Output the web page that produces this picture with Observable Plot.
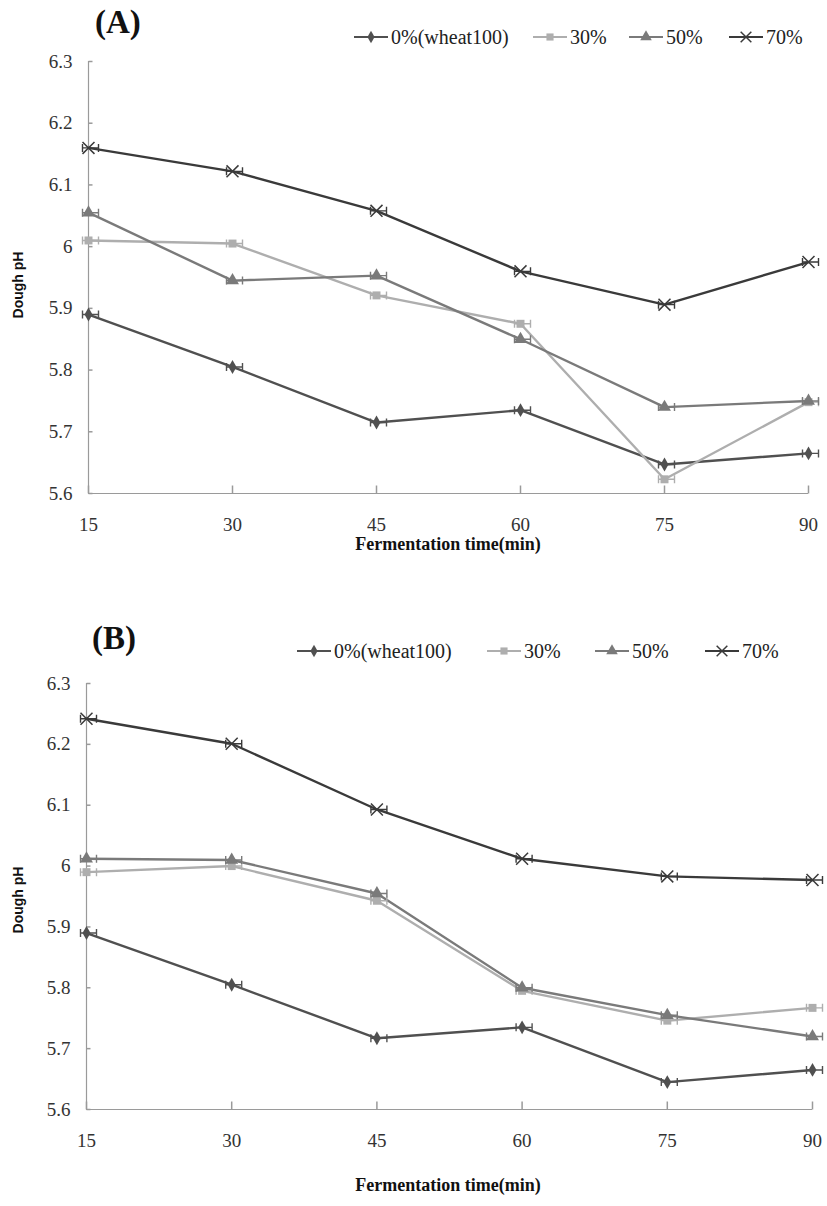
<!DOCTYPE html>
<html><head><meta charset="utf-8">
<script src="https://cdn.jsdelivr.net/npm/d3@7"></script>
<script src="https://cdn.jsdelivr.net/npm/@observablehq/plot@0.6"></script>
<style>
body{margin:0;background:#fff;}
#wrap{position:relative;width:827px;height:1206px;overflow:hidden;font-family:"Liberation Serif","Times New Roman",serif;background:#fff;}
.panel{position:absolute;left:0;width:827px;}
.title{position:absolute;font-family:"Liberation Serif",serif;font-weight:bold;font-size:33px;line-height:36px;color:#111;}
.lg{position:absolute;display:flex;align-items:center;font-family:"Liberation Serif",serif;font-size:20px;line-height:22px;color:#222;white-space:nowrap;}
.lg svg{margin-right:2px;}
.ylab{position:absolute;font-family:"Liberation Sans",sans-serif;font-weight:bold;font-size:14px;color:#111;transform:translate(-50%,-50%) rotate(-90deg);white-space:nowrap;}
.xlab{position:absolute;font-family:"Liberation Serif",serif;font-weight:bold;font-size:18px;color:#111;transform:translate(-50%,-50%);white-space:nowrap;}
</style></head>
<body><div id="wrap"></div>
<script>
// ---- data ----
const times = [15, 30, 45, 60, 75, 90];
const seriesNames = ["0%(wheat100)", "30%", "50%", "70%"];
const yTicks = [5.6, 5.7, 5.8, 5.9, 6.0, 6.1, 6.2, 6.3];
const xTicks = [15, 30, 45, 60, 75, 90];
// Panel A
const a0  = [5.89, 5.805, 5.715, 5.735, 5.647, 5.665];
const a30 = [6.01, 6.005, 5.921, 5.875, 5.623, 5.748];
const a50 = [6.055, 5.945, 5.953, 5.85, 5.74, 5.75];
const a70 = [6.16, 6.122, 6.058, 5.96, 5.906, 5.975];
// Panel B
const b0  = [5.89, 5.805, 5.717, 5.735, 5.645, 5.665];
const b30 = [5.99, 6.0, 5.943, 5.795, 5.746, 5.767];
const b50 = [6.012, 6.01, 5.955, 5.80, 5.755, 5.72];
const b70 = [6.242, 6.201, 6.093, 6.012, 5.983, 5.977];

const colors = ["#505050", "#aeaeae", "#7a7a7a", "#3a3a3a"];
const symbols = ["diamond", "square", "triangle", "times"];
const symR = [4.2, 4.5, 4.8, 5.5];

// custom symbols
const errSym = {draw(c){ c.moveTo(-6,0); c.lineTo(10,0); c.moveTo(-6,-4); c.lineTo(-6,4); c.moveTo(10,-4); c.lineTo(10,4); }};
const xTickSym = {draw(c){ c.moveTo(0,0); c.lineTo(0,-8); }};
const yTickSym = {draw(c){ c.moveTo(0,0); c.lineTo(4,0); }};

const wrap = document.getElementById("wrap");

function el(cls, text, style){
  const d = document.createElement("div");
  d.className = cls; if (text) d.textContent = text;
  Object.assign(d.style, style); wrap.appendChild(d); return d;
}

function swatch(i){
  const svg = d3.create("svg").attr("width", 36).attr("height", 14);
  svg.append("line").attr("x1",1).attr("x2",35).attr("y1",7).attr("y2",7)
    .attr("stroke", colors[i]).attr("stroke-width", 2.2);
  const symMap = {diamond: d3.symbolDiamond, square: d3.symbolSquare, triangle: d3.symbolTriangle, times: d3.symbolTimes};
  const p = svg.append("path").attr("transform","translate(18,7)")
    .attr("d", d3.symbol(symMap[symbols[i]], symR[i]*symR[i]*Math.PI*0.8)());
  if (symbols[i] === "times") p.attr("fill","none").attr("stroke",colors[i]).attr("stroke-width",1.5);
  else p.attr("fill", colors[i]);
  return svg.node();
}

function panel(vals, cfg){
  const data = [];
  vals.forEach((arr, i) => arr.forEach((v, j) => data.push({t: times[j], v, s: i})));
  const marks = [
    Plot.ruleX([15], {stroke: "#9a9a9a", strokeWidth: 1.2}),
    Plot.ruleY([5.6], {stroke: "#9a9a9a", strokeWidth: 1.2}),
    Plot.dot(xTicks, {x: d => d, y: () => 5.6, symbol: xTickSym, fill: "none", stroke: "#9a9a9a", r: 4}),
    Plot.dot(yTicks, {x: () => 15, y: d => d, symbol: yTickSym, fill: "none", stroke: "#9a9a9a", r: 4}),
    Plot.axisY({ticks: yTicks, tickSize: 0, tickPadding: 16, tickFormat: d3.format("~f"), fill: "#333", label: null}),
    Plot.axisX({ticks: xTicks, tickSize: 0, tickPadding: 24, tickFormat: d => String(d), fill: "#333", label: null})
  ];
  seriesNames.forEach((n, i) => {
    const sd = data.filter(d => d.s === i);
    marks.push(Plot.line(sd, {x: "t", y: "v", stroke: colors[i], strokeWidth: 2.4}));
  });
  seriesNames.forEach((n, i) => {
    const sd = data.filter(d => d.s === i);
    marks.push(Plot.dot(sd, {x: "t", y: "v", symbol: errSym, fill: "none", stroke: colors[i], strokeWidth: 1.4, r: 4}));
    if (symbols[i] === "times")
      marks.push(Plot.dot(sd, {x: "t", y: "v", symbol: "times", stroke: colors[i], strokeWidth: 1.5, r: symR[i]}));
    else
      marks.push(Plot.dot(sd, {x: "t", y: "v", symbol: symbols[i], fill: colors[i], stroke: "none", r: symR[i]}));
  });
  const chart = Plot.plot({
    width: 827, height: cfg.height,
    marginTop: cfg.mt, marginBottom: cfg.mb, marginLeft: cfg.ml, marginRight: cfg.mr,
    style: {fontFamily: "Liberation Serif, serif", fontSize: "19px", background: "transparent", color: "#333"},
    x: {domain: [15, 90], label: null},
    y: {domain: [5.6, 6.3], label: null},
    marks
  });
  const holder = el("panel", null, {top: cfg.top + "px", height: cfg.height + "px"});
  holder.appendChild(chart);
  el("title", cfg.title, {left: cfg.titleX + "px", top: (cfg.top + cfg.titleY) + "px"});
  cfg.legendX.forEach((x, i) => {
    const d = el("lg", null, {left: x + "px", top: (cfg.top + cfg.legendY - 11) + "px"});
    d.appendChild(swatch(i));
    const s = document.createElement("span"); s.textContent = seriesNames[i]; d.appendChild(s);
  });
  el("ylab", "Dough pH", {left: "18px", top: (cfg.top + cfg.ylabY) + "px"});
  el("xlab", "Fermentation time(min)", {left: cfg.xlabX + "px", top: (cfg.top + cfg.xlabY) + "px"});
}

panel([a0, a30, a50, a70], {
  top: 0, height: 600, mt: 61, mb: 107, ml: 88, mr: 19,
  title: "(A)", titleX: 95, titleY: 4,
  legendX: [353, 532, 628, 728], legendY: 37,
  ylabY: 285, xlabX: 448, xlabY: 544
});
panel([b0, b30, b50, b70], {
  top: 600, height: 606, mt: 83, mb: 97, ml: 86, mr: 15,
  title: "(B)", titleX: 92, titleY: 20,
  legendX: [296, 486, 594, 704], legendY: 51,
  ylabY: 300, xlabX: 448, xlabY: 585
});
</script>
</body></html>
